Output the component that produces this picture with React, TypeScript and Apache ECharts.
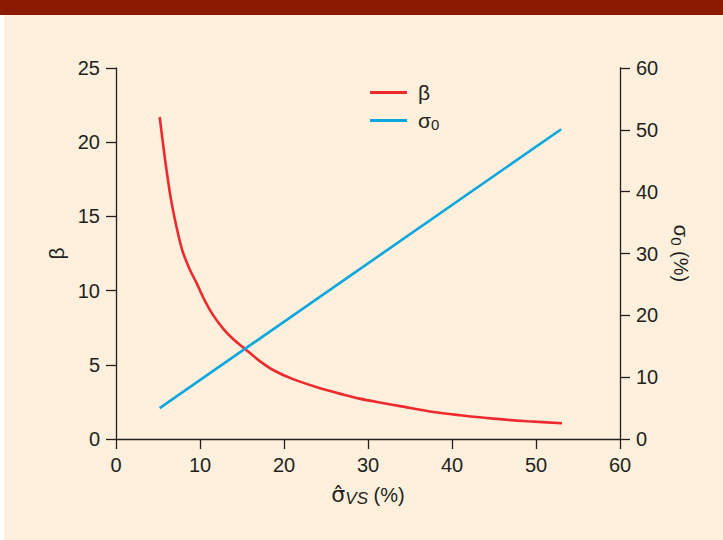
import React, { useEffect, useRef } from "react";
import * as echarts from "echarts";

const xTicks = [0, 10, 20, 30, 40, 50, 60];
const betaX = [5.2, 5.8, 6.5, 7.2, 7.9, 8.8, 9.6, 10.5, 11.5, 12.8, 14, 15.3, 17, 18.7, 21, 24.3, 27, 29, 31.4, 34, 37.8, 41, 44.9, 49, 53.1];
const betaY = [21.7, 19.0, 16.3, 14.3, 12.7, 11.4, 10.5, 9.4, 8.4, 7.4, 6.7, 6.1, 5.3, 4.65, 4.05, 3.42, 3.0, 2.72, 2.46, 2.2, 1.82, 1.6, 1.37, 1.2, 1.06];
const sigmaX = [5.2, 53.0];
const sigmaY = [5.0, 50.1];

const FONT = "'Liberation Sans', Arial, Helvetica, sans-serif";
const TXT = "#231f20";

export default function App() {
  const ref = useRef<HTMLDivElement>(null);
  useEffect(() => {
    document.body.style.margin = "0";
    const chart = echarts.init(ref.current!, null, { renderer: "svg" });
    const axisCommon = {
      axisLine: { show: true, lineStyle: { color: TXT, width: 1.3 } },
      axisTick: { show: true, length: 10, lineStyle: { color: TXT, width: 1.3 } },
      splitLine: { show: false },
    };
    chart.setOption({
      animation: false,
      backgroundColor: "#fef0dd",
      textStyle: { fontFamily: FONT },
      graphic: [
        { type: "rect", left: 0, top: 0, shape: { width: 723, height: 15 }, style: { fill: "#8a1a00" } },
        { type: "rect", left: 0, top: 15, shape: { width: 4, height: 525 }, style: { fill: "#ffffff" } },
      ],
      grid: { left: 116, right: 103, top: 68, bottom: 101 },
      legend: {
        orient: "vertical",
        left: 365,
        top: 77,
        itemWidth: 37,
        itemHeight: 3,
        itemGap: 0,
        icon: "rect",
        data: ["β", "σ0"],
        formatter: (n: string) => (n === "σ0" ? "{a|σ}{b|0}" : "{a|β}"),
        textStyle: {
          color: TXT,
          fontFamily: FONT,
          padding: [0, 0, 0, 6],
          rich: {
            a: { fontSize: 21, color: TXT, fontFamily: FONT, lineHeight: 23 },
            b: { fontSize: 15, color: TXT, fontFamily: FONT, lineHeight: 14, padding: [14, 0, 0, 0], verticalAlign: "bottom" },
          },
        },
      },
      xAxis: {
        type: "value",
        min: 0,
        max: 60,
        interval: 10,
        ...axisCommon,
        axisLabel: { color: TXT, fontSize: 20, margin: 16, fontFamily: FONT, customValues: xTicks },
        name: "{s|σ̂}{sub|VS}{p| (%)}",
        nameLocation: "middle",
        nameGap: 40,
        nameTextStyle: {
          rich: {
            s: { fontSize: 22, color: TXT, fontFamily: "'DejaVu Sans', sans-serif", lineHeight: 24 },
            sub: { fontSize: 17, color: TXT, fontStyle: "italic", fontFamily: FONT, lineHeight: 17, padding: [10, 0, 0, 0], verticalAlign: "bottom" },
            p: { fontSize: 20, color: TXT, fontFamily: FONT, lineHeight: 24 },
          },
        },
      },
      yAxis: [
        {
          type: "value",
          min: 0,
          max: 25,
          interval: 5,
          ...axisCommon,
          axisLabel: { color: TXT, fontSize: 20, margin: 16, fontFamily: FONT },
          name: "β",
          nameLocation: "middle",
          nameGap: 46,
          nameRotate: 90,
          nameTextStyle: { color: TXT, fontSize: 21, fontFamily: FONT },
        },
        {
          type: "value",
          min: 0,
          max: 60,
          interval: 10,
          position: "right",
          ...axisCommon,
          axisLabel: { color: TXT, fontSize: 20, margin: 16, fontFamily: FONT },
          name: "{a|σ}{b|0}{a| (%)}",
          nameLocation: "middle",
          nameGap: 47,
          nameRotate: -90,
          nameTextStyle: {
            rich: {
              a: { fontSize: 20, color: TXT, fontFamily: FONT, lineHeight: 23 },
              b: { fontSize: 15, color: TXT, fontFamily: FONT, lineHeight: 14, padding: [14, 0, 0, 0], verticalAlign: "bottom" },
            },
          },
        },
      ],
      series: [
        {
          name: "β",
          type: "line",
          yAxisIndex: 0,
          data: betaX.map((x, i) => [x, betaY[i]]),
          showSymbol: false,
          symbol: "none",
          smooth: 0.3,
          lineStyle: { color: "#ee2a2e", width: 2.6 },
          itemStyle: { color: "#ee2a2e" },
        },
        {
          name: "σ0",
          type: "line",
          yAxisIndex: 1,
          data: sigmaX.map((x, i) => [x, sigmaY[i]]),
          showSymbol: false,
          symbol: "none",
          lineStyle: { color: "#0aa6dd", width: 2.6 },
          itemStyle: { color: "#0aa6dd" },
        },
      ],
    });
    return () => chart.dispose();
  }, []);
  return <div ref={ref} style={{ width: 723, height: 540 }} />;
}
